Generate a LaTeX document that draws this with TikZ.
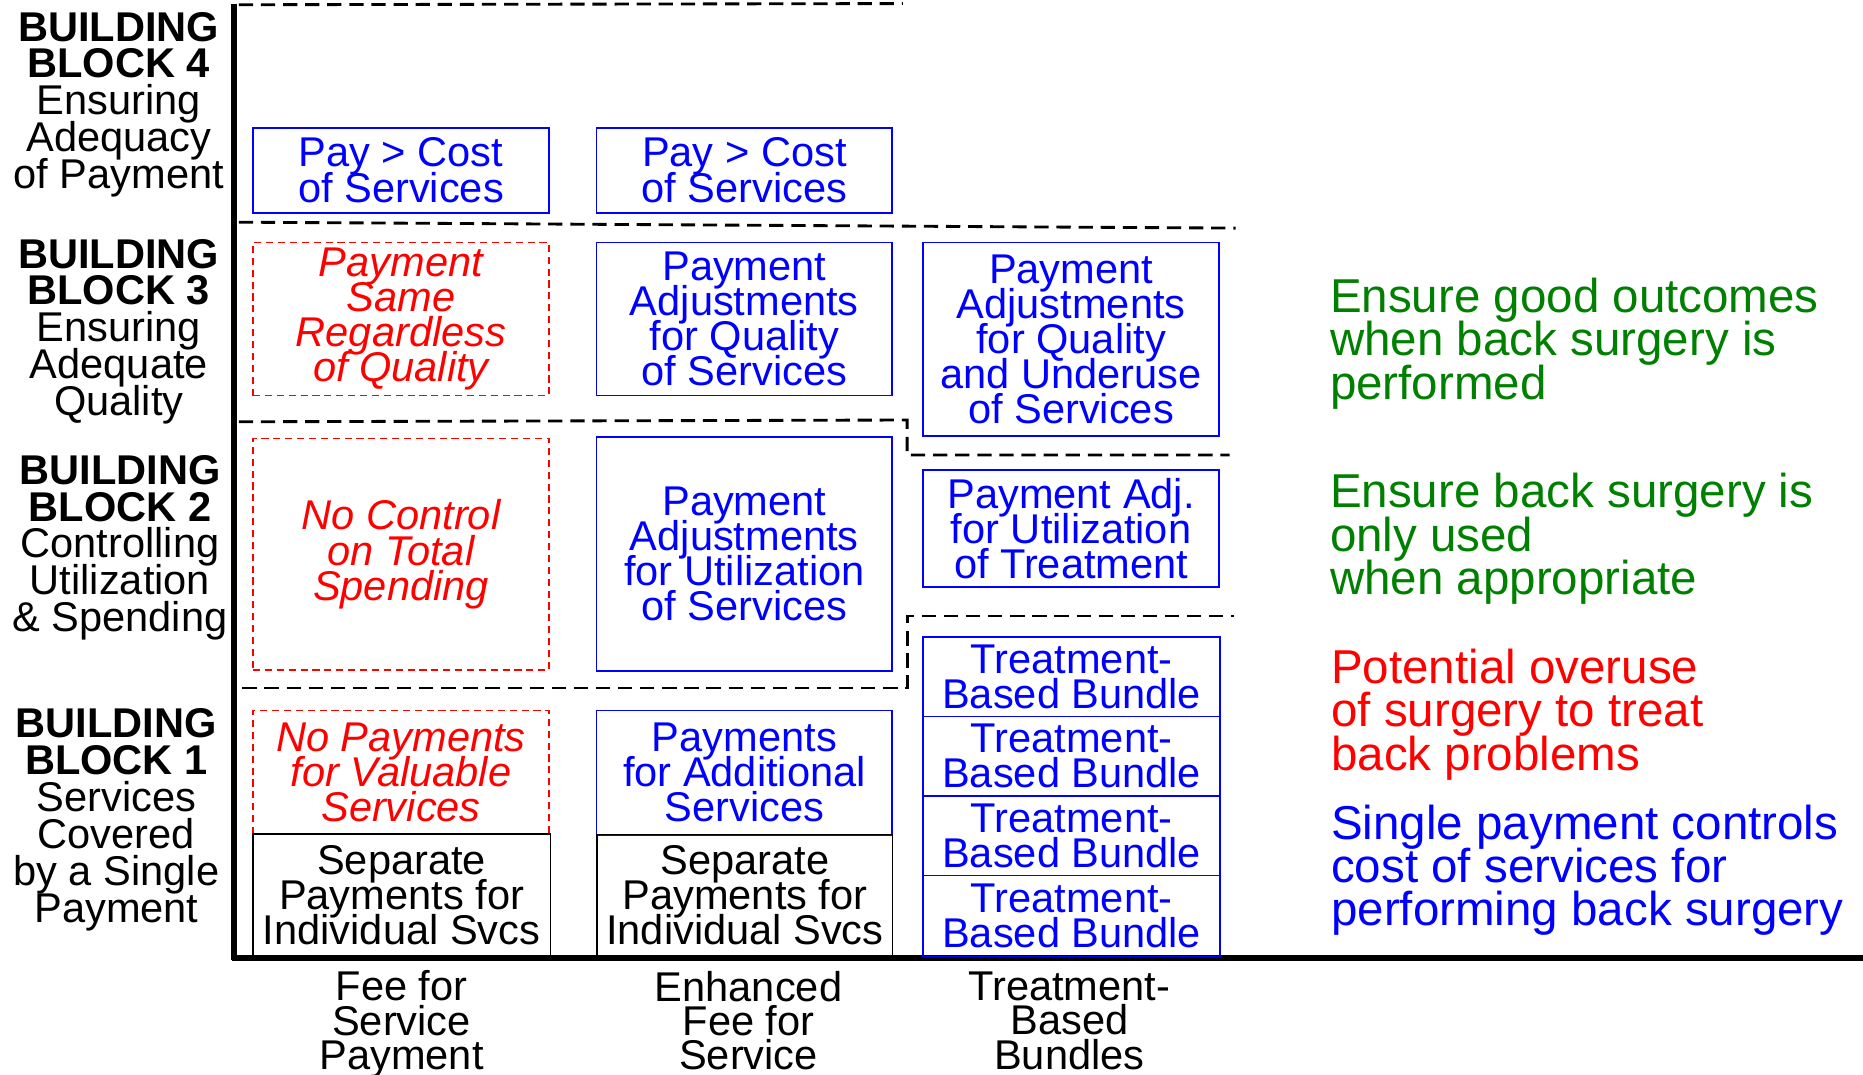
\documentclass[tikz,border=0pt]{standalone}
\usepackage{fontspec}
\setmainfont{Liberation Sans}
\definecolor{dgreen}{RGB}{0,128,0}
\newcommand\myboxfont{\fontsize{17.5}{14.75}\selectfont\lineskiplimit-50pt\relax}
\newcommand\myleftfont{\fontsize{17.5}{15.5}\selectfont\lineskiplimit-50pt\relax}
\newcommand\myrightfont{\fontsize{20}{18.25}\selectfont\lineskiplimit-50pt\relax}
\newcommand\mybottomfont{\fontsize{17.5}{14.5}\selectfont\lineskiplimit-50pt\relax}
\begin{document}
\begin{tikzpicture}[x=0.5pt,y=-0.5pt,
  boxtext/.style={font=\myboxfont, align=center, inner sep=0pt, minimum width=124.5pt},
  bluebox/.style={boxtext, draw=blue, line width=0.7pt, text=blue},
  redbox/.style={boxtext, draw=red, line width=0.7pt, dash pattern=on 3pt off 2pt, text=red, font=\myboxfont\itshape},
  blackbox/.style={boxtext, draw=black, line width=0.5pt},
  sepline/.style={line width=1.2pt, dash pattern=on 6pt off 3.3pt},
  axisline/.style={line width=2.5pt},
  lefttext/.style={font=\myleftfont, align=center, inner sep=0pt},
  righttext/.style={font=\myrightfont, align=left, inner sep=0pt, anchor=west},
  bottomtext/.style={font=\mybottomfont, align=center, inner sep=0pt},
]
\useasboundingbox (0,0) rectangle (1568,904);

% axes
\coordinate (ytop) at (197,3);
\coordinate (origin) at (197,808);
\coordinate (xstart) at (195,806);
\coordinate (xend) at (1568,806);
\draw[axisline] (ytop) -- (origin);
\draw[axisline] (xstart) -- (xend);

% dashed separators
\coordinate (s4a) at (201,4);
\coordinate (s4b) at (760,3);
\draw[sepline] (s4a) -- (s4b);
\coordinate (s3a) at (201,187);
\coordinate (s3b) at (1040,192);
\draw[sepline] (s3a) -- (s3b);
\coordinate (s2a) at (201,355);
\coordinate (s2b) at (763.5,353.5);
\coordinate (s2c) at (763.5,383);
\coordinate (s2d) at (1035,383);
\draw[sepline] (s2a) -- (s2b) -- (s2c) -- (s2d);
\coordinate (s1a) at (204,579);
\coordinate (s1b) at (763.5,579);
\coordinate (s1c) at (763.5,518.5);
\coordinate (s1d) at (1039,518.5);
\draw[sepline] (s1a) -- (s1b) -- (s1c) -- (s1d);

% column 1
\node[bluebox, minimum height=35.75pt] (a4) at (337.5,143.25) {Pay > Cost\\of Services};
\node[redbox, minimum height=64.5pt] (a3) at (337.5,268.5) {Payment\\Same\\Regardless\\of Quality};
\node[redbox, minimum height=97.5pt] (a2) at (337.5,466.5) {No Control\\on Total\\Spending};
\node[redbox, minimum height=52pt] (a1) at (337.5,650) {No Payments\\for Valuable\\Services};
\node[blackbox, minimum width=125pt, minimum height=51.5pt] (a0) at (338,753.5) {Separate\\Payments for\\Individual Svcs};

% column 2
\node[bluebox, minimum height=35.75pt] (b4) at (626.5,143.25) {Pay > Cost\\of Services};
\node[bluebox, minimum height=64.5pt] (b3) at (626.5,268.5) {Payment\\Adjustments\\for Quality\\of Services};
\node[bluebox, minimum height=98.25pt] (b2) at (626.5,466.25) {Payment\\Adjustments\\for Utilization\\of Services};
\node[bluebox, minimum height=52.25pt] (b1) at (626.5,650.25) {Payments\\for Additional\\Services};
\node[blackbox, minimum height=51.25pt] (b0) at (627,753.75) {Separate\\Payments for\\Individual Svcs};

% column 3
\node[bluebox, minimum height=81.5pt] (c3) at (901.5,285.5) {Payment\\Adjustments\\for Quality\\and Underuse\\of Services};
\node[bluebox, minimum height=49.25pt] (c2) at (901.5,444.75) {Payment Adj.\\for Utilization\\of Treatment};
\node[bluebox, minimum width=125pt, minimum height=33.5pt] (c1a) at (902,569.5) {Treatment-\\Based Bundle};
\node[bluebox, minimum width=125pt, minimum height=33.5pt] (c1b) at (902,636.5) {Treatment-\\Based Bundle};
\node[bluebox, minimum width=125pt, minimum height=33.5pt] (c1c) at (902,703.5) {Treatment-\\Based Bundle};
\node[bluebox, minimum width=125pt, minimum height=34pt] (c1d) at (902,771) {Treatment-\\Based Bundle};

% left labels
\node[lefttext] (bb4) at (100,88) {\textbf{BUILDING}\\\textbf{BLOCK 4}\\Ensuring\\Adequacy\\of Payment};
\node[lefttext] (bb3) at (100,279) {\textbf{BUILDING}\\\textbf{BLOCK 3}\\Ensuring\\Adequate\\Quality};
\node[lefttext] (bb2) at (101,461) {\textbf{BUILDING}\\\textbf{BLOCK 2}\\Controlling\\Utilization\\\& Spending};
\node[lefttext] (bb1) at (98,690) {\textbf{BUILDING}\\\textbf{BLOCK 1}\\Services\\Covered\\by a Single\\Payment};

% bottom labels
\node[bottomtext] (x2) at (630,859) {Enhanced\\Fee for\\Service};
\node[bottomtext, anchor=north] (x1) at (338,0 |- x2.north) {Fee for\\Service\\Payment};
\node[bottomtext] (x3) at (900,859) {Treatment-\\Based\\Bundles};

% right texts
\node[righttext, text=dgreen] (g1) at (1119,289) {Ensure good outcomes\\when back surgery is\\performed};
\node[righttext, text=dgreen] (g2) at (1119,453.5) {Ensure back surgery is\\only used\\when appropriate};
\node[righttext, text=red] (r1) at (1120,601.5) {Potential overuse\\of surgery to treat\\back problems};
\node[righttext, text=blue] (bl1) at (1120,732.5) {Single payment controls\\cost of services for\\performing back surgery};
\end{tikzpicture}
\end{document}
